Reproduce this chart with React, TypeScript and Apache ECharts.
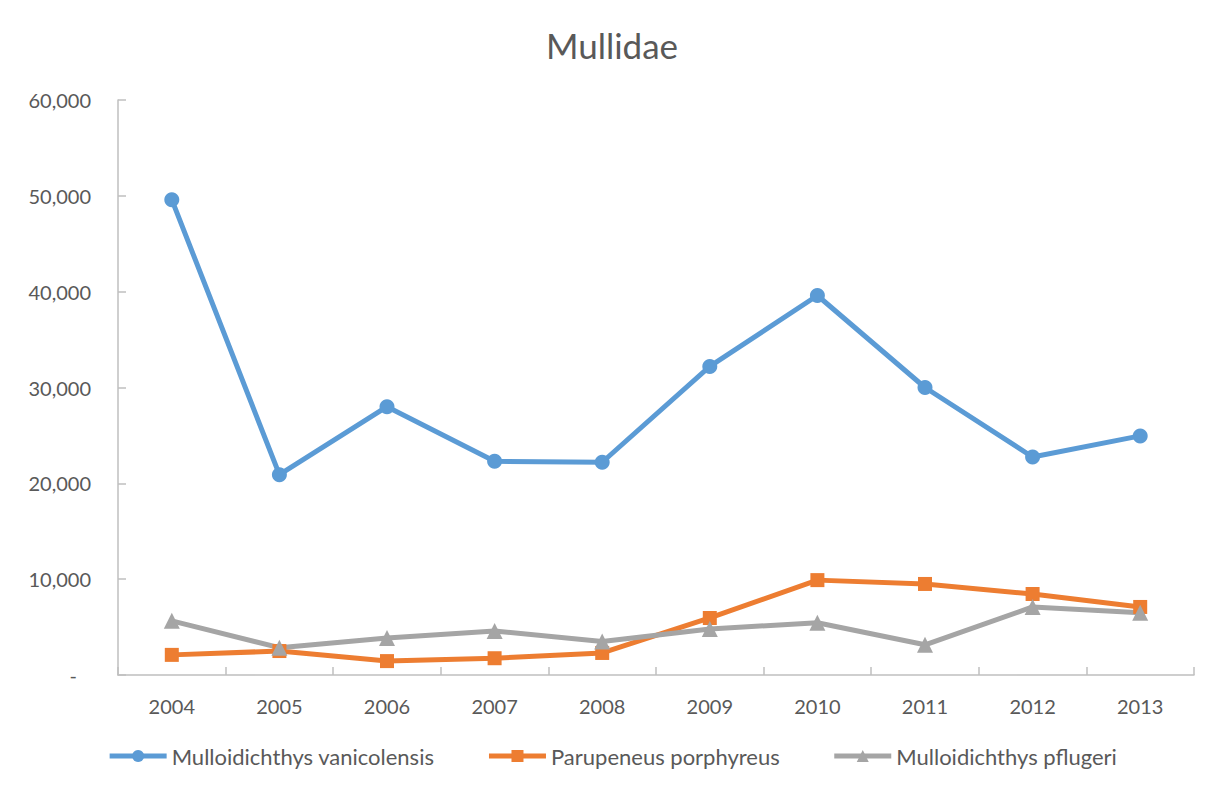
import React, { useEffect, useRef } from "react";
import * as echarts from "echarts";

const years = ["2004", "2005", "2006", "2007", "2008", "2009", "2010", "2011", "2012", "2013"];
const vanicolensis = [49600, 20900, 28000, 22300, 22200, 32200, 39600, 30000, 22750, 24950];
const porphyreus = [2100, 2500, 1450, 1750, 2300, 5950, 9900, 9500, 8450, 7100];
const flugeri = [5650, 2850, 3850, 4600, 3500, 4800, 5450, 3150, 7100, 6500];
const seriesNames = ["Mulloidichthys vanicolensis", "Parupeneus porphyreus", "Mulloidichthys pflugeri"];
const colors = ["#5b9bd5", "#ed7d31", "#a5a5a5"];

const FONT = "Lato, 'Open Sans', sans-serif";

export default function App() {
  const ref = useRef<HTMLDivElement>(null);
  useEffect(() => {
    if (!ref.current) return;
    const chart = echarts.init(ref.current, undefined, { renderer: "svg" });
    const mk = (name: string, data: number[], color: string, symbol: string, size: number) => ({
      name,
      type: "line",
      data,
      symbol,
      symbolSize: size,
      lineStyle: { color, width: 5 },
      itemStyle: { color },
      emphasis: { disabled: true },
    });
    chart.setOption({
      animation: false,
      textStyle: { fontFamily: FONT },
      title: {
        text: "Mullidae",
        left: "center",
        top: 22,
        textStyle: { fontSize: 35, fontWeight: "normal", color: "#595959", fontFamily: FONT },
      },
      graphic: [
        {
          type: "rect",
          shape: { x: 0.5, y: 0.5, width: 1222, height: 795 },
          style: { fill: "none", stroke: "#d9d9d9", lineWidth: 1 },
          silent: true,
        },
      ],
      legend: {
        bottom: 25,
        left: "center",
        itemWidth: 57,
        itemHeight: 15,
        itemGap: 52,
        lineStyle: { width: 5 },
        textStyle: { fontSize: 22, color: "#595959", fontFamily: FONT },
        data: seriesNames,
      },
      grid: { left: 118, right: 30, top: 100, bottom: 122 },
      xAxis: {
        type: "category",
        data: years,
        boundaryGap: true,
        axisLine: { lineStyle: { color: "#bfbfbf", width: 1.5 } },
        axisTick: { show: true, inside: true, length: 8, lineStyle: { color: "#bfbfbf", width: 1.5 } },
        axisLabel: { fontSize: 20, color: "#595959", margin: 21, fontFamily: FONT },
        splitLine: { show: false },
      },
      yAxis: {
        type: "value",
        min: 0,
        max: 60000,
        interval: 10000,
        axisLine: { show: true, lineStyle: { color: "#bfbfbf", width: 1.5 } },
        axisTick: { show: true, inside: true, length: 8, lineStyle: { color: "#bfbfbf", width: 1.5 } },
        splitLine: { show: false },
        axisLabel: {
          fontSize: 20,
          color: "#595959",
          margin: 27,
          fontFamily: FONT,
          formatter: (v: number) => (v === 0 ? "{d|-}" : v.toLocaleString("en-US")),
          rich: { d: { fontSize: 20, color: "#595959", padding: [0, 14, 0, 0], fontFamily: FONT } },
        },
      },
      series: [
        mk(seriesNames[0], vanicolensis, colors[0], "circle", 15),
        mk(seriesNames[1], porphyreus, colors[1], "rect", 14),
        mk(seriesNames[2], flugeri, colors[2], "triangle", 16),
      ],
    });
    return () => chart.dispose();
  }, []);
  return <div ref={ref} style={{ width: 1224, height: 797, margin: -8, background: "#fff" }} />;
}
